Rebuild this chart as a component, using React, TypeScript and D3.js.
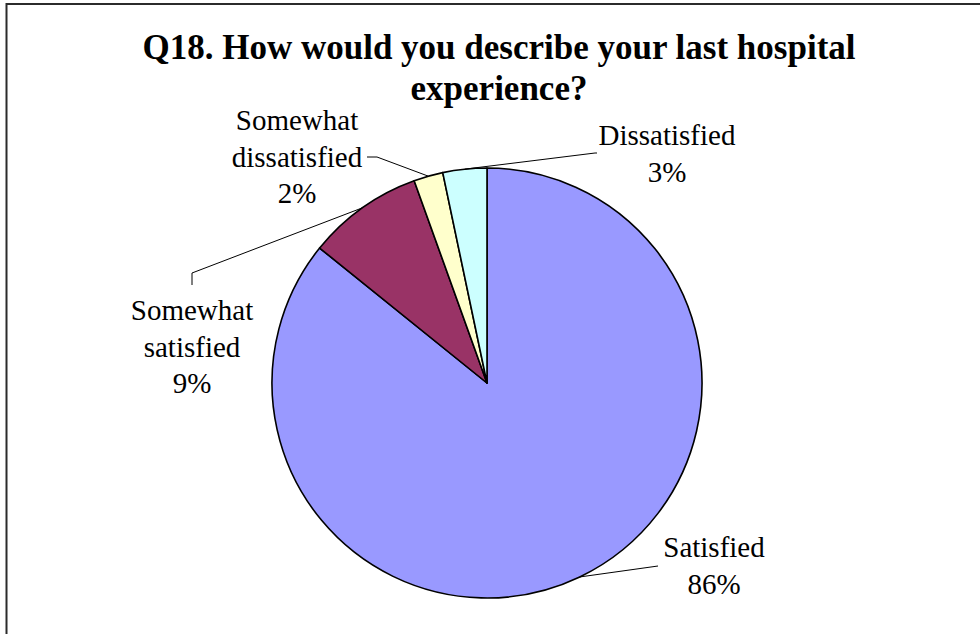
import * as d3 from "d3";
import { useEffect, useRef } from "react";

const W = 980;
const H = 634;

const TITLE_LINES = ["Q18. How would you describe your last hospital", "experience?"];
const CATEGORIES = ["Satisfied", "Somewhat satisfied", "Somewhat dissatisfied", "Dissatisfied"];
const VALUES = [85.8, 8.7, 2.2, 3.3];
const PCT_LABELS = ["86%", "9%", "2%", "3%"];
const COLORS = ["#9999FF", "#993366", "#FFFFCC", "#CCFFFF"];

// label layout: name lines, centre x, first baseline, leader path end points
const LABEL_LAYOUT = [
  { lines: ["Satisfied"], x: 714, y: 557, leader: [[658, 566]] },
  { lines: ["Somewhat", "satisfied"], x: 192, y: 320, leader: [[192, 273], [192, 285]] },
  { lines: ["Somewhat", "dissatisfied"], x: 297, y: 130, leader: [[377, 157], [367, 157]] },
  { lines: ["Dissatisfied"], x: 667, y: 145, leader: [[595, 153], [597, 153]] },
];

const FONT = "'Liberation Serif', 'Times New Roman', Times, serif";

export default function App() {
  const svgRef = useRef<SVGSVGElement>(null);

  useEffect(() => {
    if (!svgRef.current) return;
    const svg = d3.select(svgRef.current);
    svg.selectAll("*").remove();

    svg.append("rect").attr("width", W).attr("height", H).attr("fill", "#fff");

    // frame (only top and left edges visible)
    svg
      .append("path")
      .attr("d", `M6.5,${H} L6.5,4 L${W},4`)
      .attr("fill", "none")
      .attr("stroke", "#2b2b2b")
      .attr("stroke-width", 2);

    svg
      .append("g")
      .selectAll("text")
      .data(TITLE_LINES)
      .join("text")
      .attr("x", 499)
      .attr("y", (_, i) => 59 + i * 41)
      .attr("text-anchor", "middle")
      .style("font-family", FONT)
      .attr("font-weight", "bold")
      .attr("font-size", 35)
      .attr("fill", "#000")
      .text((d) => d);

    const cx = 487;
    const cy = 383;
    const r = 215;

    const data = CATEGORIES.map((c, i) => ({ name: c, value: VALUES[i], i }));
    const pie = d3
      .pie<{ name: string; value: number; i: number }>()
      .sort(null)
      .value((d) => d.value)
      .startAngle(0)
      .endAngle(2 * Math.PI);
    const arcs = pie(data);
    const arc = d3
      .arc<d3.PieArcDatum<{ name: string; value: number; i: number }>>()
      .innerRadius(0)
      .outerRadius(r);

    const g = svg.append("g").attr("transform", `translate(${cx},${cy})`);
    g.selectAll("path")
      .data(arcs)
      .join("path")
      .attr("d", arc)
      .attr("fill", (d) => COLORS[d.data.i])
      .attr("stroke", "#000")
      .attr("stroke-width", 1.6)
      .attr("stroke-linejoin", "round");

    // leader lines
    arcs.forEach((a) => {
      const mid = (a.startAngle + a.endAngle) / 2;
      const sx = cx + r * Math.sin(mid);
      const sy = cy - r * Math.cos(mid);
      const pts: [number, number][] = [[sx, sy], ...(LABEL_LAYOUT[a.data.i].leader as [number, number][])];
      svg
        .append("path")
        .attr("d", d3.line()(pts))
        .attr("fill", "none")
        .attr("stroke", "#000")
        .attr("stroke-width", 1);
    });

    // labels
    LABEL_LAYOUT.forEach((l, k) => {
      svg
        .append("g")
        .selectAll("text")
        .data([...l.lines, PCT_LABELS[k]])
        .join("text")
        .attr("x", l.x)
        .attr("y", (_, i) => l.y + i * 36.5)
        .attr("text-anchor", "middle")
        .style("font-family", FONT)
        .attr("font-size", 29)
        .attr("fill", "#000")
        .text((d) => d);
    });
  }, []);

  return (
    <div style={{ position: "absolute", left: 0, top: 0 }}>
      <svg ref={svgRef} width={W} height={H} style={{ display: "block" }} />
    </div>
  );
}
